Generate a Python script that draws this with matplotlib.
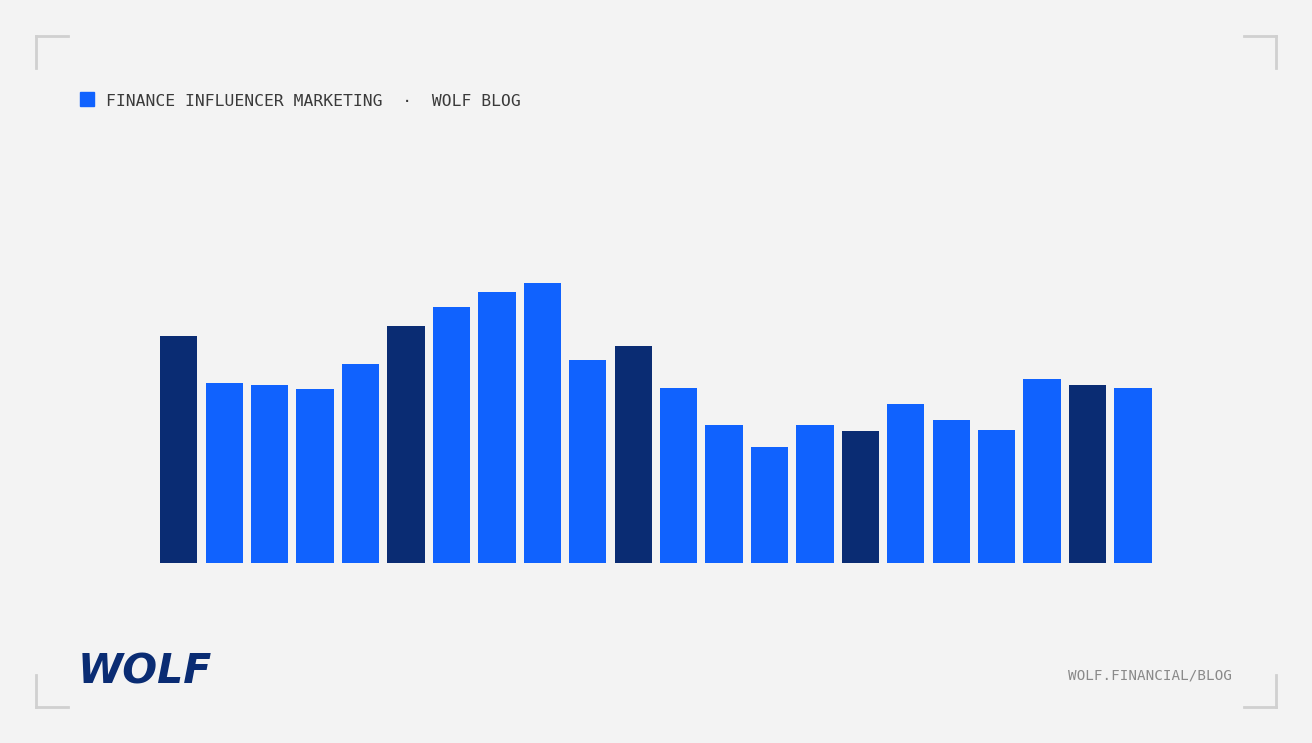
import matplotlib
matplotlib.use("Agg")
import matplotlib.pyplot as plt
from matplotlib.lines import Line2D
from matplotlib.patches import Rectangle

# ---- data ----
values = [226.7, 180.3, 177.7, 174.0, 199.0, 237.3, 256.0, 270.7, 279.7, 203.0, 217.0,
          175.0, 138.0, 116.0, 138.0, 132.0, 159.3, 143.3, 133.0, 183.7, 178.0, 175.0]
highlight = [i % 5 == 0 for i in range(len(values))]
header_title = "FINANCE INFLUENCER MARKETING  \u00b7  WOLF BLOG"
footer_url = "WOLF.FINANCIAL/BLOG"
logo_text = "WOLF"

BG = "#F3F3F3"
BLUE = "#1062FE"
NAVY = "#0A2C73"
GRAY = "#D0D0D0"

W, H = 1312, 743
fig = plt.figure(figsize=(W / 100, H / 100), dpi=100, facecolor=BG)

def fx(px):
    return px / W

def fy(py):
    return 1 - py / H

# ---- bars ----
ax = fig.add_axes([fx(156.1), fy(563), fx(1155.7) - fx(156.1), 300 / H])
ax.set_facecolor("none")
xs = list(range(len(values)))
colors = [NAVY if h else BLUE for h in highlight]
ax.bar(xs, values, width=0.82, color=colors, linewidth=0)
ax.set_xlim(-0.5, len(values) - 0.5)
ax.set_ylim(0, 300)
ax.axis("off")

# ---- corner brackets ----
arm = 32
lw = 2
for (cx, cy, dx, dy) in [(36, 36, 1, 1), (1276, 36, -1, 1), (36, 707, 1, -1), (1276, 707, -1, -1)]:
    fig.add_artist(Line2D([fx(cx), fx(cx + dx * arm)], [fy(cy), fy(cy)], color=GRAY, lw=lw))
    fig.add_artist(Line2D([fx(cx), fx(cx)], [fy(cy), fy(cy + dy * arm)], color=GRAY, lw=lw))

# ---- header ----
fig.add_artist(Rectangle((fx(80), fy(106)), 14 / W, 14 / H, color=BLUE, transform=fig.transFigure))
fig.text(fx(106), fy(101), header_title, fontsize=11.8, family="DejaVu Sans Mono",
         color="#3A3A3A", va="center", ha="left")

# ---- footer ----
fig.text(fx(1232), fy(675.5), footer_url, fontsize=10.3, family="DejaVu Sans Mono",
         color="#8A8A8A", va="center", ha="right")
fig.text(fx(78), fy(673), logo_text, fontsize=29.5, family="DejaVu Sans", fontweight="bold",
         style="italic", color=NAVY, va="center", ha="left")

fig.savefig("out.png", dpi=100, facecolor=BG)
